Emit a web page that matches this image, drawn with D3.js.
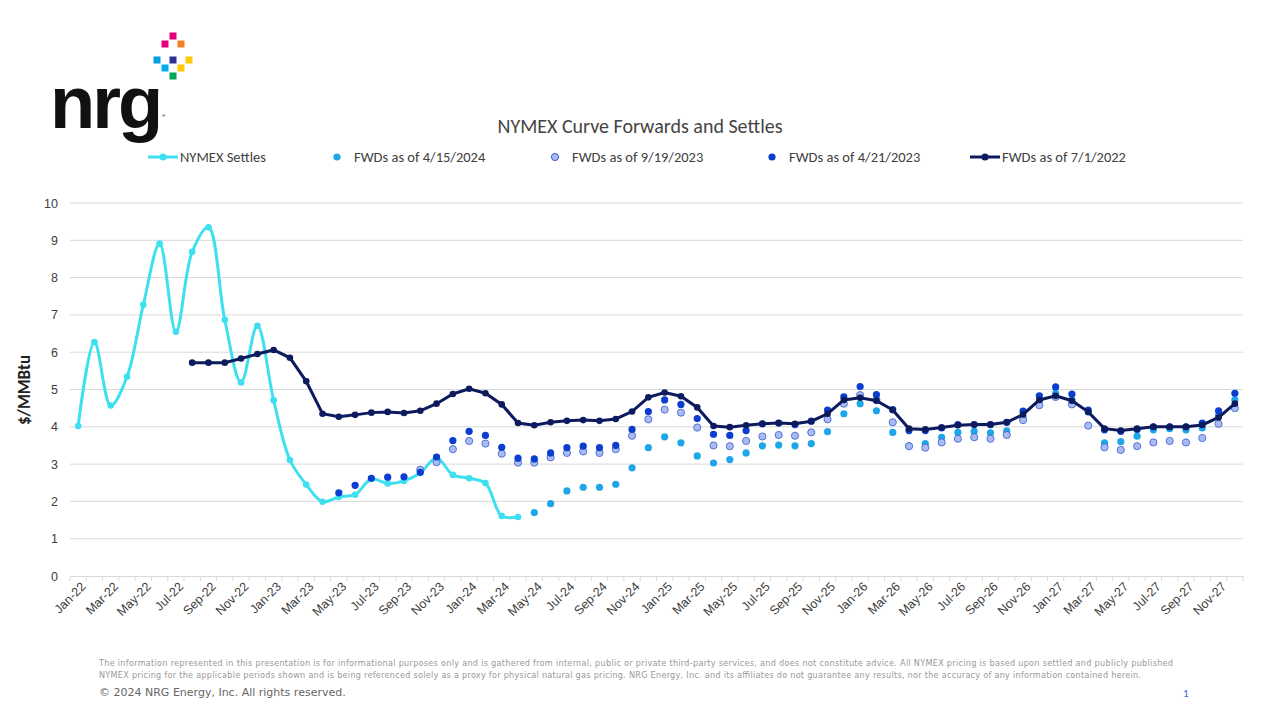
<!DOCTYPE html>
<html><head><meta charset="utf-8">
<script src="https://cdn.jsdelivr.net/npm/d3@7"></script>
<style>body{margin:0;background:#fff;font-family:Calibri,Carlito,"Liberation Sans",Arial,sans-serif}</style>
</head><body><div id="chart"></div>
<script>
var W = 1280, H = 720
var margin = {top: 203, right: 37, bottom: 144, left: 70},
    width = W - margin.left - margin.right,
    height = H - margin.top - margin.bottom

var svgRoot = d3.select("#chart").append("svg").attr("width", W).attr("height", H)

// months Jan-22 .. Dec-27
var mNames = ["Jan","Feb","Mar","Apr","May","Jun","Jul","Aug","Sep","Oct","Nov","Dec"]
var months = []
for (var y = 22; y <= 27; y++) mNames.forEach(m => months.push(m + "-" + y))

// values start at the given month label
var series = [
  {name: "NYMEX Settles", start: "Jan-22", color: "#3ee0f0", line: true, curve: true,
   values: [4.02,6.27,4.57,5.34,7.27,8.91,6.55,8.69,9.35,6.87,5.19,6.71,4.71,3.11,2.45,1.99,2.12,2.18,2.60,2.48,2.55,2.76,3.17,2.71,2.62,2.49,1.61,1.58]},
  {name: "FWDs as of 4/15/2024", start: "May-24", color: "#1ea7e8",
   values: [1.70,1.94,2.28,2.38,2.38,2.46,2.90,3.44,3.73,3.57,3.22,3.03,3.12,3.30,3.49,3.51,3.49,3.55,3.87,4.35,4.62,4.43,3.85,3.49,3.55,3.72,3.85,3.88,3.84,3.89,4.25,4.67,4.90,4.72,4.40,3.57,3.60,3.75,3.92,3.95,3.92,3.97,4.30,4.72]},
  {name: "FWDs as of 9/19/2023", start: "Oct-23", color: "#a9bcf2", stroke: "#3a5bd0",
   values: [2.85,3.05,3.40,3.62,3.55,3.28,3.04,3.04,3.18,3.30,3.34,3.30,3.40,3.76,4.20,4.46,4.38,3.98,3.50,3.48,3.62,3.74,3.78,3.76,3.85,4.20,4.62,4.85,4.72,4.12,3.48,3.44,3.58,3.68,3.72,3.68,3.78,4.18,4.58,4.80,4.60,4.03,3.45,3.38,3.48,3.58,3.62,3.58,3.70,4.08,4.50]},
  {name: "FWDs as of 4/21/2023", start: "May-23", color: "#0b3ecf",
   values: [2.23,2.43,2.62,2.65,2.66,2.78,3.19,3.63,3.88,3.77,3.45,3.16,3.14,3.30,3.44,3.48,3.44,3.50,3.93,4.41,4.72,4.60,4.22,3.80,3.77,3.90,4.08,4.10,4.06,4.15,4.45,4.80,5.08,4.86,4.46,3.90,3.90,3.97,4.06,4.06,4.06,4.12,4.42,4.83,5.07,4.88,4.45,3.92,3.88,3.93,4.00,4.00,4.00,4.10,4.43,4.90]},
  {name: "FWDs as of 7/1/2022", start: "Aug-22", color: "#0d1b5e", line: true,
   values: [5.72,5.72,5.72,5.83,5.95,6.06,5.85,5.22,4.35,4.27,4.32,4.38,4.40,4.37,4.43,4.62,4.88,5.02,4.90,4.60,4.10,4.04,4.12,4.16,4.18,4.16,4.21,4.41,4.79,4.92,4.82,4.52,4.02,3.99,4.04,4.08,4.10,4.08,4.15,4.35,4.72,4.78,4.70,4.45,3.95,3.93,3.98,4.04,4.06,4.06,4.12,4.33,4.72,4.83,4.70,4.40,3.95,3.90,3.95,4.00,4.00,4.00,4.05,4.25,4.62]}
]
series.forEach(s => {
  var i0 = months.indexOf(s.start)
  s.points = s.values.map((v, i) => ({month: months[i0 + i], value: v}))
})

var svg = svgRoot.append("g").attr("transform", `translate(${margin.left},${margin.top})`)

var xScale = d3.scalePoint().domain(months).range([0, width]).padding(0.5)
var yScale = d3.scaleLinear().domain([0, 10]).range([height, 0])

// gridlines
svg.append("g").selectAll("line").data(d3.range(1, 11)).enter().append("line")
  .attr("x1", 0).attr("x2", width)
  .attr("y1", d => yScale(d)).attr("y2", d => yScale(d))
  .attr("stroke", "#d9d9d9").attr("stroke-width", 1)

var yAxis = svg.append("g")
  .call(d3.axisLeft(yScale).ticks(10).tickSize(0).tickPadding(12))
yAxis.select(".domain").remove()
yAxis.selectAll("text").style("font-size", "12.5px").attr("fill", "#404040")

var xAxis = svg.append("g").attr("transform", `translate(0,${height})`)
  .call(d3.axisBottom(xScale).tickValues(months.filter((d, i) => i % 2 === 0)).tickSize(0).tickPadding(6))
xAxis.select(".domain").attr("stroke", "#d9d9d9")
xAxis.selectAll("text").style("font-size", "12.5px").attr("fill", "#404040")
  .attr("text-anchor", "end").attr("dx", "-0.2em").attr("dy", "0.6em")
  .attr("transform", "rotate(-45)")
// minor tick marks on axis
svg.append("g").selectAll("line").data(d3.range(0, 73)).enter().append("line")
  .attr("x1", d => d * xScale.step()).attr("x2", d => d * xScale.step())
  .attr("y1", height).attr("y2", height + 5).attr("stroke", "#d9d9d9")

// lines and markers
series.forEach(s => {
  if (s.line) {
    svg.append("path").datum(s.points)
      .attr("fill", "none").attr("stroke", s.color).attr("stroke-width", 3)
      .attr("d", d3.line().curve(s.curve ? d3.curveCatmullRom.alpha(0.5) : d3.curveLinear)
        .x(d => xScale(d.month)).y(d => yScale(d.value)))
  }
  svg.append("g").selectAll("circle").data(s.points).enter().append("circle")
    .attr("cx", d => xScale(d.month)).attr("cy", d => yScale(d.value))
    .attr("r", s.line ? 3.3 : 3.6)
    .attr("fill", s.color)
    .attr("stroke", s.stroke || "none").attr("stroke-width", 0.8)
})

// y label
svgRoot.append("text").attr("transform", "translate(30,390) rotate(-90)")
  .attr("text-anchor", "middle").style("font-size", "17px").style("font-weight", "bold")
  .attr("fill", "#222").text("$/MMBtu")

// title
svgRoot.append("text").attr("x", 640).attr("y", 133).attr("text-anchor", "middle")
  .style("font-size", "20px").attr("fill", "#444").text("NYMEX Curve Forwards and Settles")

// legend
var legX = [148, 322, 540, 757, 970]
series.forEach((s, i) => {
  var g = svgRoot.append("g").attr("transform", `translate(${legX[i]},157)`)
  if (s.line) g.append("line").attr("x1", 0).attr("x2", 30).attr("stroke", s.color).attr("stroke-width", 3)
  g.append("circle").attr("cx", 15).attr("r", 3.6).attr("fill", s.color).attr("stroke", s.stroke || "none")
  g.append("text").attr("x", 32).attr("dy", "0.35em").style("font-size", "14.5px").attr("fill", "#404040").text(s.name)
})

// logo
var logo = svgRoot.append("g")
logo.append("text").attr("x", 50).attr("y", 128).style("font-size", "74px").style("font-weight", "bold")
  .style("font-family", "'Liberation Sans',Arial,sans-serif").attr("fill", "#111").attr("letter-spacing", "-3")
  .text("nrg")
logo.append("text").attr("x", 162).attr("y", 120).style("font-size", "9px").attr("fill", "#111").text("®")
var pts = [[173,36,"#e6007e"],[165,44,"#e6007e"],[181,44,"#f58220"],[157,60,"#00a0e3"],[173,60,"#2e3192"],[189,60,"#ffcb05"],[165,68,"#00aeef"],[181,68,"#ffcb05"],[173,76,"#00a651"]]
logo.selectAll("rect").data(pts).enter().append("rect")
  .attr("x", d => d[0] - 3.5).attr("y", d => d[1] - 3.5).attr("width", 7).attr("height", 7).attr("fill", d => d[2])

// footer
var foot = svgRoot.append("g").style("font-size", "9px").style("font-family", "'DejaVu Sans Condensed','DejaVu Sans',sans-serif").attr("fill", "#999")
foot.append("text").attr("x", 99).attr("y", 666).attr("textLength", 1074).text("The information represented in this presentation is for informational purposes only and is gathered from internal, public or private third-party services, and does not constitute advice.  All NYMEX pricing is based upon settled and publicly published")
foot.append("text").attr("x", 99).attr("y", 678).attr("textLength", 1042).text("NYMEX pricing for the applicable periods shown and is being referenced solely as a proxy for physical natural gas pricing.  NRG Energy, Inc. and its affiliates do not guarantee any results, nor the accuracy of any information contained herein.")
svgRoot.append("text").attr("x", 99).attr("y", 696).style("font-size", "11px").style("font-family", "'DejaVu Sans',sans-serif").attr("fill", "#666").text("© 2024 NRG Energy, Inc.   All rights reserved.")
svgRoot.append("text").attr("x", 1183).attr("y", 697).style("font-size", "11px").attr("fill", "#2f6fd0").text("1")
</script></body></html>
